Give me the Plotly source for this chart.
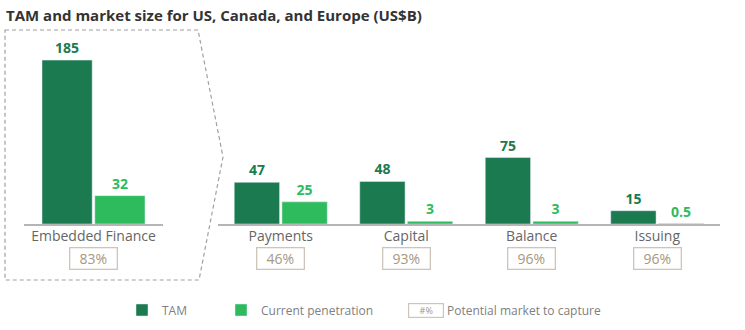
import plotly.graph_objects as go

# ---------------- data ----------------
title_text = "TAM and market size for US, Canada, and Europe (US$B)"
main_cats = ["Embedded Finance"]
main_tam = [185]
main_cur = [32]
main_pot = ["83%"]

seg_cats = ["Payments", "Capital", "Balance", "Issuing"]
seg_tam = [47, 48, 75, 15]
seg_cur = [25, 3, 3, 0.5]
seg_pot = ["46%", "93%", "96%", "96%"]

series_names = ["TAM", "Current penetration"]
pot_legend_box = "#%"
pot_legend_text = "Potential market to capture"

# ---------------- styles ----------------
W, H = 745, 330
C_TAM = "#1b7a50"
C_CUR = "#2dbb5e"
C_TXT = "#666666"
C_PCT = "#a8977f"
C_BOX = "#cfc4b8"
FONT = "Open Sans"


def px(x):
    return x / W


def py(y):
    return 1 - y / H


def fmt(v):
    return f"{v:g}"


fig = go.Figure()

for cats, tam, cur, xa, ya, show in [
    (main_cats, main_tam, main_cur, "x", "y", True),
    (seg_cats, seg_tam, seg_cur, "x2", "y2", False),
]:
    fig.add_trace(go.Bar(
        x=cats, y=tam, name=series_names[0], marker_color=C_TAM,
        text=[fmt(v) for v in tam], textposition="outside",
        textfont=dict(color=C_TAM, size=14, family=FONT, weight=700),
        cliponaxis=False, xaxis=xa, yaxis=ya, showlegend=show,
        legendgroup="tam", legend="legend",
    ))
    fig.add_trace(go.Bar(
        x=cats, y=cur, name=series_names[1], marker_color=C_CUR,
        text=[fmt(v) for v in cur], textposition="outside",
        textfont=dict(color=C_CUR, size=14, family=FONT, weight=700),
        cliponaxis=False, xaxis=xa, yaxis=ya, showlegend=show,
        legendgroup="cur", legend="legend2",
    ))

annotations = []
# title
annotations.append(dict(
    text=title_text, xref="paper", yref="paper", x=px(4), y=py(15),
    xanchor="left", yanchor="middle", showarrow=False,
    font=dict(family=FONT, size=15, color="#333333", weight=700),
))
# percentage boxes
for cats, pots, xa in [(main_cats, main_pot, "x"), (seg_cats, seg_pot, "x2")]:
    for c, p in zip(cats, pots):
        annotations.append(dict(
            text=p, xref=xa, yref="paper", x=c, y=py(258.5),
            xanchor="center", yanchor="middle", showarrow=False,
            font=dict(family=FONT, size=14, color=C_PCT),
            bordercolor=C_BOX, borderwidth=1.3, borderpad=1,
            width=44, height=18,
        ))
# legend third item
annotations.append(dict(
    text=pot_legend_box, xref="paper", yref="paper", x=px(425.5), y=py(310),
    xanchor="center", yanchor="middle", showarrow=False,
    font=dict(family=FONT, size=9, color=C_PCT),
    bordercolor=C_BOX, borderwidth=1.2, borderpad=1, width=32, height=11,
))
annotations.append(dict(
    text=pot_legend_text, xref="paper", yref="paper", x=px(445), y=py(310),
    xanchor="left", yanchor="middle", showarrow=False,
    font=dict(family=FONT, size=12, color="#808080"),
))

# dashed outline around Embedded Finance
pts = [(5, 30), (198, 30), (223, 157), (199, 280), (5, 280)]
path = "M" + " L".join(f"{px(x):.5f},{py(y):.5f}" for x, y in pts) + " Z"
shapes = [dict(type="path", xref="paper", yref="paper", path=path,
               line=dict(color="#a0a0a0", width=1.2, dash="4px,3px"))]

ymax = 207.7
axis_common = dict(showgrid=False, zeroline=False, showline=True,
                   linecolor="#b5b5b5", linewidth=1.5, ticks="",
                   ticklabelstandoff=-2,
                   tickfont=dict(family=FONT, size=14, color=C_TXT),
                   fixedrange=True)
yaxis_common = dict(range=[0, ymax], visible=False, domain=[py(224), py(40)],
                    fixedrange=True)

legend_common = dict(orientation="h", y=py(310), xanchor="left",
                     yanchor="middle",
                     font=dict(family=FONT, size=12, color="#808080"),
                     bgcolor="rgba(0,0,0,0)")

fig.update_layout(
    width=W, height=H,
    margin=dict(l=0, r=0, t=0, b=0),
    paper_bgcolor="white", plot_bgcolor="white",
    barmode="group", bargap=0.24, bargroupgap=0.05,
    xaxis=dict(domain=[px(24), px(163)], anchor="y", **axis_common),
    xaxis2=dict(domain=[px(218), px(720)], anchor="y2", **axis_common),
    yaxis=dict(anchor="x", **yaxis_common),
    yaxis2=dict(anchor="x2", **yaxis_common),
    legend=dict(x=px(122), **legend_common),
    legend2=dict(x=px(221), **legend_common),
    annotations=annotations,
    shapes=shapes,
    showlegend=True,
)

fig.write_html("out.html")
